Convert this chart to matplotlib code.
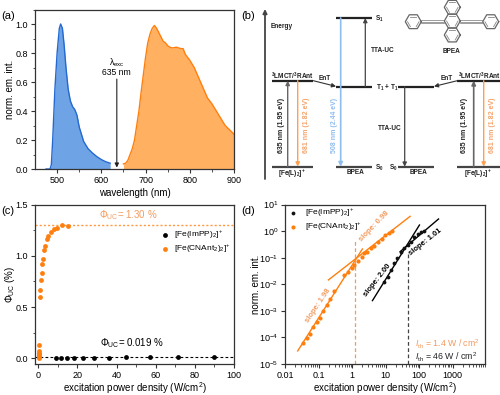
import numpy as np
import matplotlib
matplotlib.use('Agg')
import matplotlib.pyplot as plt

plt.rcParams['font.family'] = ['Liberation Sans', 'DejaVu Sans']
plt.rcParams['mathtext.fontset'] = 'custom'
plt.rcParams['mathtext.rm'] = 'Liberation Sans'
plt.rcParams['mathtext.it'] = 'Liberation Sans:italic'
plt.rcParams['mathtext.bf'] = 'Liberation Sans:bold'
plt.rcParams['mathtext.default'] = 'regular'
plt.rcParams['font.size'] = 6.5

# (a) spectres
wl_bleu = [475, 484, 487, 490, 495, 500, 505, 508, 512, 516, 520, 525, 530, 535, 540, 545, 550, 555, 560, 570, 580, 590, 600, 610, 620]
em_bleu = [0, 0, 0.03, 0.2, 0.55, 0.8, 0.97, 1.0, 0.97, 0.85, 0.7, 0.55, 0.47, 0.43, 0.41, 0.37, 0.29, 0.24, 0.19, 0.14, 0.11, 0.085, 0.065, 0.05, 0.04]
wl_orange = [650, 655, 660, 665, 670, 675, 680, 685, 690, 695, 700, 705, 710, 715, 720, 725, 730, 735, 740, 745, 750, 755, 760, 770, 780, 785, 790, 800, 810, 820, 830, 840, 850, 860, 870, 880, 890, 900]
em_orange = [0.035, 0.04, 0.06, 0.1, 0.14, 0.2, 0.3, 0.4, 0.53, 0.65, 0.77, 0.87, 0.93, 0.97, 0.99, 0.97, 0.94, 0.91, 0.88, 0.87, 0.85, 0.84, 0.835, 0.84, 0.83, 0.83, 0.79, 0.75, 0.70, 0.63, 0.56, 0.49, 0.45, 0.40, 0.35, 0.30, 0.27, 0.24]

# (c) rendement
p_cn = [1.0, 1.0, 1.4, 1.7, 2.0, 2.4, 2.7, 3.4, 4.2, 5.1, 6.5, 8.0, 9.7, 12.2, 15.3]
uc_cn = [0.60, 0.67, 0.76, 0.83, 0.92, 0.97, 1.06, 1.10, 1.16, 1.19, 1.23, 1.26, 1.27, 1.30, 1.29]
p_cn_bas = [0.4, 0.4, 0.4, 0.4, 0.4, 0.4, 0.4]
uc_cn_bas = [0.005, 0.02, 0.03, 0.04, 0.055, 0.07, 0.13]
p_imp = [9, 11.5, 14.4, 18, 22.6, 28.5, 36, 45, 57, 71.5, 90]
uc_imp = [0.002, 0.002, 0.003, 0.005, 0.006, 0.007, 0.008, 0.01, 0.011, 0.012, 0.014]

# (d) log-log
d_p_cn = [0.035, 0.044, 0.055, 0.069, 0.088, 0.111, 0.139, 0.176, 0.225, 0.284, 0.59, 0.78, 0.98, 1.17, 1.51, 1.95, 2.33, 2.87, 3.6, 4.64, 5.97, 7.7, 9.66, 12.2, 15.3]
d_em_cn = [6.0e-5, 9.2e-5, 1.38e-4, 2.4e-4, 3.9e-4, 5.2e-4, 1.0e-3, 1.65e-3, 2.7e-3, 5.7e-3, 0.0216, 0.029, 0.042, 0.053, 0.077, 0.103, 0.155, 0.168, 0.224, 0.283, 0.377, 0.50, 0.69, 0.82, 1.04]
d_p_imp = [9, 11.5, 14.4, 18, 22.6, 28.5, 36, 45, 57, 71.5, 90, 113, 143]
d_em_imp = [0.0117, 0.0193, 0.0333, 0.063, 0.094, 0.158, 0.224, 0.30, 0.40, 0.58, 0.776, 0.90, 1.04]
fit_cn_1 = ([0.0239, 2.03], [3.1e-5, 0.212])
fit_cn_2 = ([0.197, 53.8], [0.0145, 3.59])
fit_imp_1 = ([4.05, 102], [0.00242, 1.69])
fit_imp_2 = ([27.1, 378], [0.168, 2.85])

ORANGE = '#ff7f0e'
ORANGE_CLAIR = '#f29a5e'
BLEU = '#2469d0'
GRIS = '#333333'
W, H = 500, 395

fig = plt.figure(figsize=(5, 3.95), dpi=100)


def axes_px(x0, y0, x1, y1):
    a = fig.add_axes([x0 / W, 1 - y1 / H, (x1 - x0) / W, (y1 - y0) / H])
    for s in a.spines.values():
        s.set_linewidth(0.9)
        s.set_color(GRIS)
    a.tick_params(which='major', length=3, width=0.8, pad=2, labelsize=6.5, color=GRIS)
    a.tick_params(which='minor', length=1.8, width=0.6, color=GRIS)
    return a


# (a)
ax = axes_px(35, 9.5, 234, 169)
ax.fill_between(wl_bleu, em_bleu, color='#6ea3e6', lw=0)
ax.plot(wl_bleu, em_bleu, color=BLEU, lw=1)
ax.fill_between(wl_orange, em_orange, color='#ffb061', lw=0)
ax.plot(wl_orange, em_orange, color=ORANGE, lw=1)
ax.set_xlim(450, 900)
ax.set_ylim(0, 1.1)
ax.set_xticks([500, 600, 700, 800, 900])
ax.set_xticks([550, 650, 750, 850], minor=True)
ax.set_yticks([0, 0.2, 0.4, 0.6, 0.8, 1.0])
ax.set_yticks([0.1, 0.3, 0.5, 0.7, 0.9, 1.1], minor=True)
ax.set_xlabel('wavelength (nm)', fontsize=7)
ax.set_ylabel('norm. em. int.', fontsize=7)
ax.xaxis.set_label_coords(0.5, -0.15, transform=ax.transAxes)
ax.yaxis.set_label_coords(-0.125, 0.5, transform=ax.transAxes)
ax.xaxis.label.set_va('center')
ax.yaxis.label.set_va('center')
ax.annotate('', xy=(635, 0.01), xytext=(635, 0.62), arrowprops=dict(arrowstyle='-|>', color='#222222', lw=0.8, mutation_scale=6, shrinkA=0, shrinkB=0))
ax.text(635, 0.735, 'λ$_{exc}$', ha='center', va='center', fontsize=6.2)
ax.text(635, 0.665, '635 nm', ha='center', va='center', fontsize=6.2)

# (c)
ax = axes_px(35, 204.5, 234, 364)
ax.axhline(1.30, color=ORANGE, ls=(0, (1.5, 1.5)), lw=1, alpha=0.8)
ax.axhline(0.012, color='black', ls=(0, (2.5, 2)), lw=0.8)
ax.scatter(p_cn, uc_cn, s=12, color=ORANGE, lw=0, zorder=3)
ax.scatter(p_cn_bas, uc_cn_bas, s=12, color=ORANGE, lw=0, zorder=3)
ax.scatter(p_imp, uc_imp, s=12, color='black', lw=0, zorder=3, label='[Fe(ImPP)$_2$]$^{+}$')
ax.scatter([], [], s=12, color=ORANGE, lw=0, label='[Fe(CNAnt$_2$)$_2$]$^{+}$')
ax.set_xlim(-1.7, 100)
ax.set_ylim(-0.055, 1.5)
ax.set_xticks([0, 20, 40, 60, 80, 100])
ax.set_xticks([10, 30, 50, 70, 90], minor=True)
ax.set_yticks([0, 0.5, 1.0, 1.5])
ax.set_yticks([0.25, 0.75, 1.25], minor=True)
ax.set_xlabel('excitation power density (W/cm$^2$)', fontsize=7)
ax.set_ylabel('Φ$_{UC}$ (%)', fontsize=7)
ax.xaxis.set_label_coords(0.5, -0.148, transform=ax.transAxes)
ax.yaxis.set_label_coords(-0.125, 0.5, transform=ax.transAxes)
ax.xaxis.label.set_va('center')
ax.yaxis.label.set_va('center')
ax.text(46, 1.395, 'Φ$_{UC}$= 1.30 %', color=ORANGE_CLAIR, ha='center', va='center', fontsize=7)
ax.text(48, 0.145, 'Φ$_{UC}$= 0.019 %', ha='center', va='center', fontsize=7)
ax.legend(loc='upper right', bbox_to_anchor=(0.985, 0.85), frameon=False, fontsize=6, handlelength=1.6, handletextpad=0.35, labelspacing=0.2, borderpad=0, borderaxespad=0)

# (d)
ax = axes_px(285, 204.5, 484.7, 364)
ax.set_xscale('log')
ax.set_yscale('log')
ax.plot(*fit_cn_1, color=ORANGE, lw=1)
ax.plot(*fit_cn_2, color=ORANGE, lw=1)
ax.plot(*fit_imp_1, color='black', lw=1)
ax.plot(*fit_imp_2, color='black', lw=1)
ax.plot([1.25, 1.25], [1e-5, 0.46], color=ORANGE_CLAIR, ls=(0, (3, 2)), lw=0.9)
ax.plot([46, 46], [1e-5, 0.168], color='#444444', ls=(0, (3, 2)), lw=0.9)
ax.scatter(d_p_cn, d_em_cn, s=9, color=ORANGE, lw=0, zorder=3, label='[Fe(CNAnt$_2$)$_2$]$^{+}$')
ax.scatter(d_p_imp, d_em_imp, s=7.5, color='#111111', lw=0, zorder=3, label='[Fe(ImPP)$_2$]$^{+}$')
ax.set_xlim(0.01, 9000)
ax.set_ylim(1e-5, 10)
ax.set_xticks([0.01, 0.1, 1, 10, 100, 1000])
ax.set_xticklabels(['0.01', '0.1', '1', '10', '100', '1000'])
ax.set_yticks([1e-5, 1e-4, 1e-3, 1e-2, 1e-1, 1, 10])
ax.tick_params(axis='y', which='minor', length=0)
ax.set_xlabel('excitation power density (W/cm$^2$)', fontsize=7)
ax.set_ylabel('norm. em. int.', fontsize=7)
ax.xaxis.set_label_coords(0.5, -0.148, transform=ax.transAxes)
ax.yaxis.set_label_coords(-0.145, 0.5, transform=ax.transAxes)
ax.xaxis.label.set_va('center')
ax.yaxis.label.set_va('center')
h, l = ax.get_legend_handles_labels()
ax.legend(h[::-1], l[::-1], loc='upper left', bbox_to_anchor=(0.0, 0.985), frameon=False, fontsize=6, handletextpad=0.35, labelspacing=0.2, borderpad=0, borderaxespad=0)

# (b) schema, en pixels de l'image
sc = fig.add_axes([0, 0, 1, 1], facecolor='none')
sc.set_xlim(0, W)
sc.set_ylim(H, 0)
sc.axis('off')

# textes de (d), poses en pixels
sc.text(317.7, 306, 'slope: 1.98', color=ORANGE_CLAIR, rotation=56, ha='center', va='center', rotation_mode='anchor', fontsize=5.5, fontweight='bold')
sc.text(374, 226, 'slope: 0.98', color=ORANGE_CLAIR, rotation=46, ha='center', va='center', rotation_mode='anchor', fontsize=5.5, fontweight='bold')
sc.text(377.7, 280.7, 'slope: 2.00', color='black', rotation=52, ha='center', va='center', rotation_mode='anchor', fontsize=5.5, fontweight='bold')
sc.text(425, 241.7, 'slope: 1.01', color='black', rotation=38, ha='center', va='center', rotation_mode='anchor', fontsize=5.5, fontweight='bold')
sc.text(414.7, 344.5, '$\\mathit{I}_{th}$ = 1.4 W / cm$^2$', color=ORANGE_CLAIR, ha='left', va='center', fontsize=6.3)
sc.text(414.7, 357, '$\\mathit{I}_{th}$ = 46 W / cm$^2$', color='#222222', ha='left', va='center', fontsize=6.3)


def niveau(x0, x1, y, c='#222222', lw=1.6):
    sc.plot([x0, x1], [y, y], color=c, lw=lw, solid_capstyle='butt')


def fleche(x0, y0, x1, y1, c, lw=1.0):
    sc.annotate('', xy=(x1, y1), xytext=(x0, y0), arrowprops=dict(arrowstyle='-|>', color=c, lw=lw, mutation_scale=6, shrinkA=0, shrinkB=0))


def txt(x, y, s, c='#222222', rot=0, fs=4.7, ha='center'):
    sc.text(x, y, s, color=c, rotation=rot, ha=ha, va='center', fontsize=fs, fontweight='bold')


fleche(265, 179, 265, 9, '#444444', lw=1.3)
txt(271, 26, 'Energy', ha='left')
y_haut, y_t, y_mlct, y_bas = 18, 86.7, 80.7, 166.7
for x0, x1 in [(271.7, 312.7), (457.3, 500)]:
    niveau(x0, x1, y_mlct)
    niveau(x0, x1, y_bas, c='#444444')
niveau(336, 372.3, y_haut)
niveau(336, 372.3, y_t)
niveau(336, 372.3, y_bas, c='#444444')
niveau(398.3, 434, y_t)
niveau(398.3, 434, y_bas, c='#444444')

fleche(287.7, y_bas, 287.7, y_mlct, '#666666')
fleche(297.7, y_mlct, 297.7, y_bas, '#ffa050')
fleche(340.7, y_haut, 340.7, y_bas, '#8fbdf0', lw=1.2)
fleche(365.3, y_t, 365.3, y_haut, '#444444', lw=0.9)
fleche(313.3, y_mlct, 336, y_t - 0.3, '#333333', lw=0.8)
fleche(457.3, y_mlct, 434, y_t - 0.3, '#333333', lw=0.8)
fleche(404.7, y_t, 404.7, y_bas, '#444444', lw=0.9)
fleche(473.7, y_bas, 473.7, y_mlct, '#666666', lw=1.2)
fleche(483.7, y_mlct, 483.7, y_bas, '#ffa050')

for x, y in [(292, 76), (479, 76)]:
    txt(x, y, '$^3$LMCT/$^3$RAnt')
txt(325, 78.5, 'EnT')
txt(447, 78.5, 'EnT')
txt(281.5, 125, '635 nm (1.95 eV)', rot=90, fs=5)
txt(306, 125, '681 nm (1.82 eV)', c='#f5a36b', rot=90, fs=5)
txt(334, 125, '508 nm (2.44 eV)', c='#8fbdf0', rot=90, fs=5)
txt(465, 125, '635 nm (1.95 eV)', rot=90, fs=5)
txt(492, 125, '681 nm (1.82 eV)', c='#f5a36b', rot=90, fs=5)
txt(382.5, 50, 'TTA-UC')
txt(390, 129, 'TTA-UC')
txt(375, 19, 'S$_1$', ha='left')
txt(375.5, 88, 'T$_1$ + T$_1$', ha='left')
txt(375, 167.5, 'S$_0$', ha='left')
txt(389, 167.5, 'S$_0$', ha='left')
txt(292, 173.5, '[Fe(L)$_2$]$^{+}$')
txt(478, 173.5, '[Fe(L)$_2$]$^{+}$')
txt(356, 173, 'BPEA')
txt(419, 173, 'BPEA')
txt(452, 51.5, 'BPEA')


# molecule BPEA
def cycle(cx, cy, r=8):
    a = np.radians(np.arange(0, 361, 60))
    sc.plot(cx + r * np.cos(a), cy + r * np.sin(a), color='#666666', lw=0.9)
    for i in (0, 2, 4):
        sc.plot(cx + 0.72 * r * np.cos(a[i:i + 2]), cy + 0.72 * r * np.sin(a[i:i + 2]), color='#888888', lw=0.6)


for cx, cy in [(452.3, 7.3), (452.3, 21), (452.3, 35), (413.3, 21.7), (490.7, 21.7)]:
    cycle(cx, cy)
for x0, x1 in [(421.3, 444.3), (460.3, 482.7)]:
    for dy in (-1.2, 0, 1.2):
        sc.plot([x0, x1], [21.5 + dy, 21.5 + dy], color='#777777', lw=0.5)

# lettres des panneaux
for x, y, s in [(1, 16, '(a)'), (241.5, 16, '(b)'), (1, 211, '(c)'), (241.5, 211, '(d)')]:
    sc.text(x, y, s, ha='left', va='center', fontsize=8)

fig.savefig('out.png', dpi=100)
